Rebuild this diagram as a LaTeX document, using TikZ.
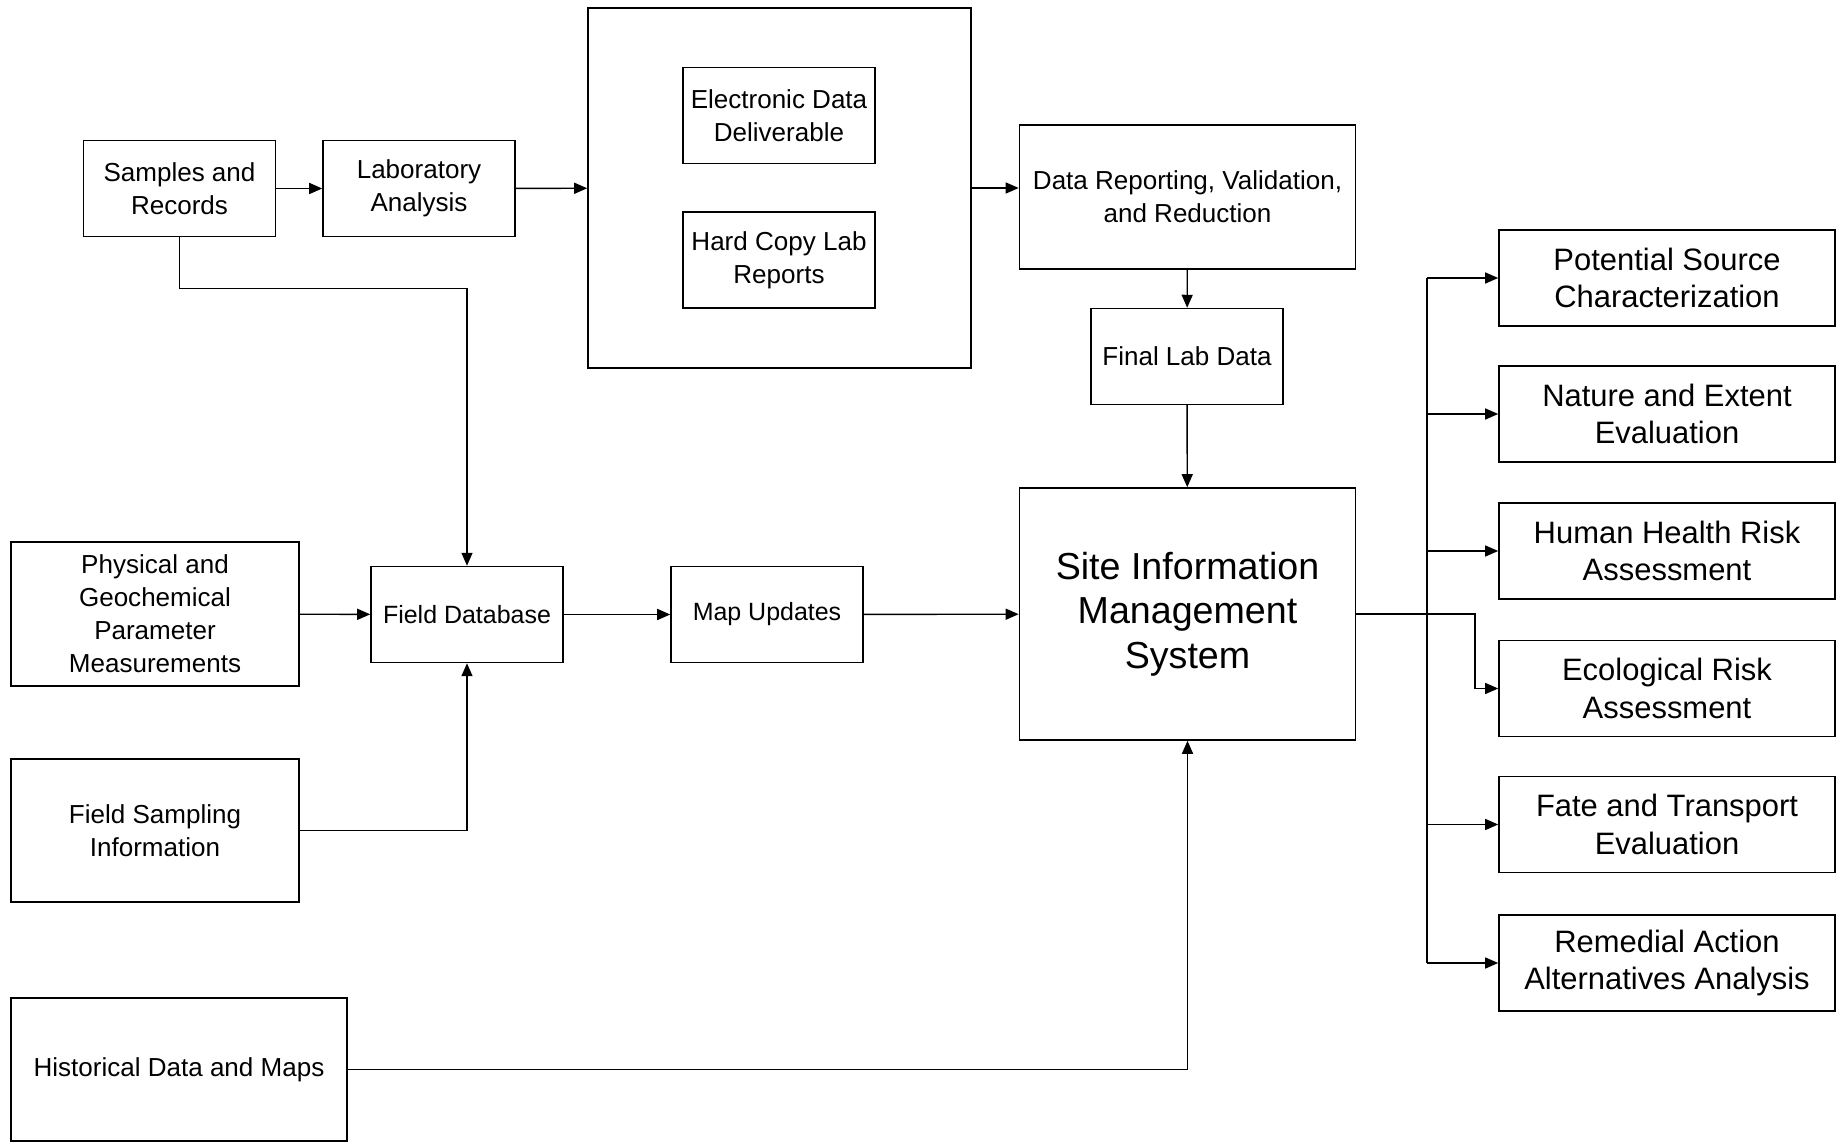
\documentclass[tikz,border=0pt]{standalone}
\usepackage{fontspec}
\setmainfont{Liberation Sans}
\usetikzlibrary{arrows.meta}

\begin{document}
\begin{tikzpicture}[x=0.01cm, y=-0.01cm, line width=0.4pt,
		box/.style={draw, align=center, inner sep=0pt, font=\fontsize{7.4}{9.4}\selectfont},
		wide/.style={box, minimum width=33.6mm},
		small/.style={box, minimum width=19.2mm, minimum height=9.6mm},
		outcome/.style={wide, minimum height=9.6mm, font=\fontsize{8.8}{10.7}\selectfont},
		>={Triangle[length=1.3mm, width=1.1mm]}]
		\useasboundingbox (0,0) rectangle (1839,1143);
		
		% upper row
		\node[small] (samp) at (179.5,188.5) {Samples and\\Records};
		\node[small] (lab) at (419,188.5) {Laboratory\\Analysis};
		\node[box, minimum width=38.3mm, minimum height=36mm] (big) at (779.5,188) {};
		\node[small] (edd) at (779,115.5) {Electronic Data\\Deliverable};
		\node[small] (hard) at (779,260) {Hard Copy Lab\\Reports};
		\node[wide, minimum height=14.4mm] (report) at (1187.5,197) {Data Reporting, Validation,\\and Reduction};
		\node[small] (final) at (1187,356.5) {Final Lab Data};
		
		% inputs
		\node[box, minimum width=28.8mm, minimum height=14.4mm] (phys) at (155,614) {Physical and\\Geochemical\\Parameter\\Measurements};
		\node[box, minimum width=28.8mm, minimum height=14.3mm] (fsamp) at (155,830.5) {Field Sampling\\Information};
		\node[wide, minimum height=14.3mm] (hist) at (179,1069.5) {Historical Data and Maps};
		\node[small, font=\fontsize{7.1}{9}\selectfont] (fdb) at (467,614.5) {Field Database};
		\node[small, font=\fontsize{7.1}{9}\selectfont] (map) at (767,614.5) {Map Updates};
		\node[wide, minimum height=25.2mm, font=\fontsize{10.7}{12.7}\selectfont] (sims) at (1187.5,614) {Site Information\\Management\\System};
		
		% outputs
		\node[outcome] (pot) at (1667,278) {Potential Source\\Characterization};
		\node[outcome] (nat) at (1667,414) {Nature and Extent\\Evaluation};
		\node[outcome] (hum) at (1667,551) {Human Health Risk\\Assessment};
		\node[outcome] (eco) at (1667,688.5) {Ecological Risk\\Assessment};
		\node[outcome] (fate) at (1667,824.5) {Fate and Transport\\Evaluation};
		\node[outcome] (rem) at (1667,963) {Remedial Action\\Alternatives Analysis};
		
		% connectors
		\draw[->] (samp) -- (lab);
		\draw[->] (lab) -- (big);
		\draw[->] (big.east) -- (big.east -| report.west);
		\draw[->] (report) -- (final);
		\draw[->] (final) -- (sims);
		\draw[->] (samp.south) -- ++(0,51) -| (fdb.north);
		\draw[->] (phys) -- (fdb);
		\draw[->] (fsamp.east) -| (fdb.south);
		\draw[->] (fdb) -- (map);
		\draw[->] (map) -- (sims);
		\draw[->] (hist.east) -| (sims.south);
		
		\coordinate (trunk) at (1427,614);
		\coordinate (ecobend) at (1475,614);
		\draw[line width=0.6pt] (sims.east) -- (trunk);
		\draw (trunk |- pot) -- (trunk |- rem);
		\foreach \n in {pot, nat, hum, fate, rem}
			\draw[->] (trunk |- \n) -- (\n.west);
		\draw[->] (trunk) -- (ecobend) |- (eco.west);
	\end{tikzpicture}
\end{document}
